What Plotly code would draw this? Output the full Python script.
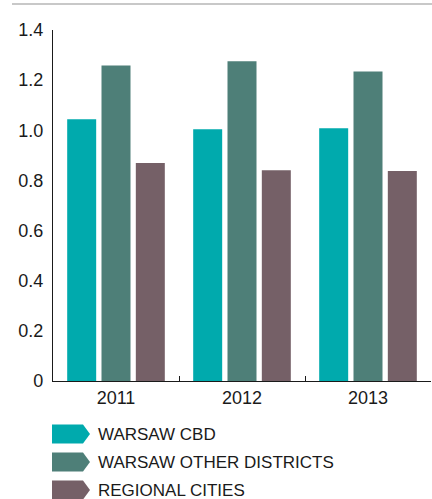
import plotly.graph_objects as go

# Data
years = ["2011", "2012", "2013"]
series_names = ["WARSAW CBD", "WARSAW OTHER DISTRICTS", "REGIONAL CITIES"]
warsaw_cbd = [1.044, 1.004, 1.008]
warsaw_other = [1.258, 1.275, 1.234]
regional_cities = [0.870, 0.841, 0.838]
y_ticks = [0, 0.2, 0.4, 0.6, 0.8, 1.0, 1.2, 1.4]
y_tick_text = ["0", "0.2", "0.4", "0.6", "0.8", "1.0", "1.2", "1.4"]

colors = ["#00aaad", "#4e7f78", "#756067"]
values = [warsaw_cbd, warsaw_other, regional_cities]

W, H = 432, 499
ML, MR, MT, MB = 53, 1, 30, 118
PW, PH = W - ML - MR, H - MT - MB

def px_x(x):
    return (x - ML) / PW

def px_y(y):
    return (H - MB - y) / PH

fig = go.Figure()
for name, vals, col in zip(series_names, values, colors):
    fig.add_trace(go.Bar(
        x=years, y=vals, name=name, marker_color=col,
        marker_line_width=0, showlegend=False,
    ))

font_family = "Liberation Sans, Arial, Helvetica, sans-serif"

shapes = []
annotations = []

# thin grey rule across the top
shapes.append(dict(type="line", xref="paper", yref="paper",
                   x0=px_x(12), x1=px_x(432), y0=px_y(4), y1=px_y(4),
                   line=dict(color="#c8c8c8", width=2)))

# arrow-shaped legend keys
leg_y = [434, 462, 490]
for name, col, yc in zip(series_names, colors, leg_y):
    x0, x1, tip = 52, 83, 90
    y0, y1 = yc - 9.5, yc + 9.5
    pts = [(x0, y0), (x1, y0), (tip, yc), (x1, y1), (x0, y1)]
    path = "M " + " L ".join(f"{px_x(a):.5f},{px_y(b):.5f}" for a, b in pts) + " Z"
    shapes.append(dict(type="path", xref="paper", yref="paper", path=path,
                       fillcolor=col, line=dict(width=0)))
    annotations.append(dict(xref="paper", yref="paper", x=px_x(96), y=px_y(yc),
                            text=name, showarrow=False, xanchor="left",
                            yanchor="middle",
                            font=dict(size=17, color="#1a1a1a", family=font_family)))

fig.update_layout(
    width=W, height=H,
    margin=dict(l=ML, r=MR, t=MT, b=MB),
    paper_bgcolor="white", plot_bgcolor="white",
    barmode="group", bargap=0.183, bargroupgap=0.155,
    font=dict(family=font_family, size=18, color="#1a1a1a"),
    shapes=shapes, annotations=annotations,
    xaxis=dict(
        showline=True, linecolor="#1a1a1a", linewidth=1.2,
        ticks="inside", tickson="boundaries", ticklen=5, tickcolor="#1a1a1a",
        showgrid=False, zeroline=False, range=[-0.5, 2.5],
        tickfont=dict(size=18),
    ),
    yaxis=dict(
        range=[0, 1.4], tickvals=y_ticks, ticktext=y_tick_text,
        showline=True, linecolor="#1a1a1a", linewidth=1.2,
        ticks="", showgrid=False, zeroline=False,
        ticklabelstandoff=5, tickfont=dict(size=18),
    ),
)

fig.write_html("out.html")
